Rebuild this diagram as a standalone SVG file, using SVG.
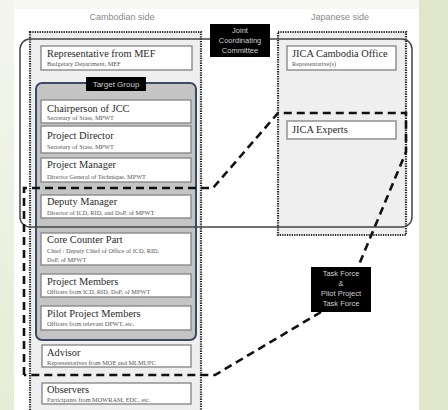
<svg xmlns="http://www.w3.org/2000/svg" width="448" height="410" viewBox="0 0 448 410">
<defs>
<linearGradient id="lg" x1="0" y1="0" x2="0" y2="1"><stop offset="0" stop-color="#f4f6ee"/><stop offset="1" stop-color="#e6ecd6"/></linearGradient>
<style>
.side{font-family:"Liberation Sans",Arial,sans-serif;font-size:9px;fill:#888;text-anchor:middle}
.dot{fill:#efefef;stroke:#2a2a2a;stroke-width:2.2;stroke-dasharray:1.3 1.1}
.box{fill:#fff;stroke:#8a8a8a;stroke-width:1.4}
.t{font-family:"Liberation Serif","Times New Roman",serif;font-size:10.4px;fill:#2a2a2a}
.s{font-family:"Liberation Serif","Times New Roman",serif;font-size:6.3px;fill:#555}
.lbl{fill:#000}
.lt{font-family:"Liberation Sans",Arial,sans-serif;font-size:7.5px;fill:#cfcfcf;text-anchor:middle}
.dash{fill:none;stroke:#111;stroke-width:2.6;stroke-dasharray:8 5}
</style>
</defs>
<rect x="0" y="0" width="448" height="410" fill="#f7f8f2"/>
<rect x="0" y="0" width="14" height="410" fill="url(#lg)"/>
<rect x="419" y="0" width="29" height="410" fill="#dfe6ca"/>
<rect x="14" y="9" width="405" height="401" fill="#fff"/>
<text class="side" x="122" y="20">Cambodian side</text>
<text class="side" x="340" y="20">Japanese side</text>
<g id="cambodian-side"><rect class="dot" x="30" y="32" width="171" height="390"/></g>
<g id="japanese-side"><rect class="dot" x="278" y="32" width="128" height="203"/></g>
<g id="mef"><rect class="box" x="41" y="46" width="151" height="24"/>
<text class="t" x="47" y="57">Representative from MEF</text><text class="s" x="47" y="66">Budgetary Department, MEF</text></g>
<g id="target-group"><rect x="36" y="83" width="160" height="257" rx="6" fill="#c4c4c4" stroke="#3c4a66" stroke-width="2"/>
<rect class="lbl" x="86" y="77" width="60" height="14"/><text class="lt" x="116" y="87" style="font-size:8px">Target Group</text></g>
<g id="chairperson"><rect class="box" x="41" y="100" width="150" height="23"/>
<text class="t" x="47" y="112">Chairperson of JCC</text><text class="s" x="47" y="120">Secretary of State, MPWT</text></g>
<g id="project-director"><rect class="box" x="41" y="126" width="150" height="27"/>
<text class="t" x="47" y="139">Project Director</text><text class="s" x="47" y="149">Secretary of State, MPWT</text></g>
<g id="project-manager"><rect class="box" x="41" y="158" width="150" height="24"/>
<text class="t" x="47" y="168">Project Manager</text><text class="s" x="47" y="179">Director General of Technique, MPWT</text></g>
<g id="deputy-manager"><rect class="box" x="41" y="195" width="150" height="23"/>
<text class="t" x="47" y="205">Deputy Manager</text><text class="s" x="47" y="215">Director of ICD, RID, and DoP, of MPWT</text></g>
<g id="core-counter-part"><rect class="box" x="41" y="233" width="150" height="32"/>
<text class="t" x="47" y="243">Core Counter Part</text><text class="s" x="47" y="253">Chief / Deputy Chief of Office of ICD, RID,</text><text class="s" x="47" y="262">DoP, of MPWT</text></g>
<g id="project-members"><rect class="box" x="41" y="274" width="150" height="23"/>
<text class="t" x="47" y="285">Project Members</text><text class="s" x="47" y="294">Officers from ICD, RID, DoP, of MPWT</text></g>
<g id="pilot-project-members"><rect class="box" x="41" y="306" width="150" height="24"/>
<text class="t" x="47" y="317">Pilot Project Members</text><text class="s" x="47" y="326">Officers from relevant DPWT, etc.</text></g>
<g id="advisor"><rect class="box" x="42" y="345" width="149" height="22"/>
<text class="t" x="47" y="356">Advisor</text><text class="s" x="47" y="365">Representatives from MOE and MLMUPC</text></g>
<g id="observers"><rect class="box" x="42" y="383" width="149" height="21"/>
<text class="t" x="47" y="393">Observers</text><text class="s" x="47" y="402">Participants from MOWRAM, EDC, etc.</text></g>
<g id="jica-office"><rect class="box" x="287" y="46" width="109" height="24"/>
<text class="t" x="292" y="57">JICA Cambodia Office</text><text class="s" x="292" y="66">Representative(s)</text></g>
<g id="jica-experts"><rect class="box" x="287" y="121" width="109" height="18"/>
<text class="t" x="292" y="133">JICA Experts</text></g>
<g id="jcc-frame"><rect x="20" y="39" width="392" height="188" rx="10" fill="none" stroke="#444" stroke-width="1.5"/></g>
<g id="connectors">
<path class="dash" d="M24 375 L24 188 L213 188 L278 113 L406 113 L406 152 L358 267"/>
<path class="dash" d="M321 312 L215 375 L24 375"/>
</g>
<g id="jcc"><rect class="lbl" x="210" y="24" width="60" height="33"/>
<text class="lt" x="240" y="33">Joint</text><text class="lt" x="240" y="43">Coordinating</text><text class="lt" x="240" y="53">Committee</text></g>
<g id="task-force"><rect class="lbl" x="311" y="267" width="60" height="45"/>
<text class="lt" x="341" y="276">Task Force</text><text class="lt" x="341" y="286">&amp;</text><text class="lt" x="341" y="296">Pilot Project</text><text class="lt" x="341" y="306">Task Force</text></g>
</svg>
